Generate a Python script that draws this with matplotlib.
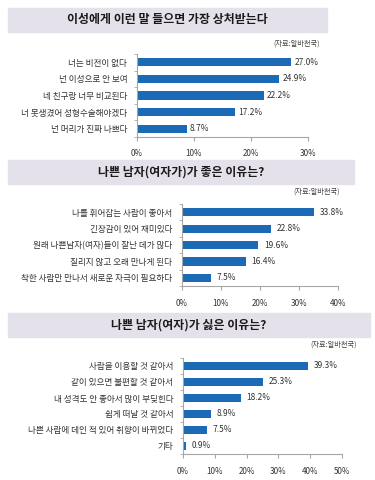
import matplotlib
matplotlib.use("Agg")
import matplotlib.pyplot as plt
import numpy as np

plt.rcParams['font.family'] = ['Noto Sans CJK KR', 'DejaVu Sans']

W, H = 375, 480
BAR = '#1a6ab5'
BAND = '#e4e1ea'
AXC = '#a6a6a6'

# panel 1
title1 = '이성에게 이런 말 들으면 가장 상처받는다'
cats1 = ['너는 비전이 없다', '넌 이성으로 안 보여', '네 친구랑 너무 비교된다',
         '너 못생겼어 성형수술해야겠다', '넌 머리가 진짜 나쁘다']
vals1 = [27.0, 24.9, 22.2, 17.2, 8.7]
ticks1 = [0, 10, 20, 30]

# panel 2
title2 = '나쁜 남자(여자가)가 좋은 이유는?'
cats2 = ['나를 휘어잡는 사람이 좋아서', '긴장감이 있어 재미있다', '원래 나쁜남자(여자)들이 잘난 데가 많다',
         '질리지 않고 오래 만나게 된다', '착한 사람만 만나서 새로운 자극이 필요하다']
vals2 = [33.8, 22.8, 19.6, 16.4, 7.5]
ticks2 = [0, 10, 20, 30, 40]

# panel 3
title3 = '나쁜 남자(여자)가 싫은 이유는?'
cats3 = ['사람을 이용할 것 같아서', '같이 있으면 불편할 것 같아서', '내 성격도 안 좋아서 많이 부딪힌다',
         '쉽게 떠날 것 같아서', '나쁜 사람에 데인 적 있어 취향이 바뀌었다', '기타']
vals3 = [39.3, 25.3, 18.2, 8.9, 7.5, 0.9]
ticks3 = [0, 10, 20, 30, 40, 50]

source = '(자료:알바천국)'

fig = plt.figure(figsize=(W / 100, H / 100), dpi=100)
fig.patch.set_facecolor('white')


def px_rect(x0, y0, x1, y1):
    # pixel box (top-left origin) -> figure fraction
    return [x0 / W, 1 - y1 / H, (x1 - x0) / W, (y1 - y0) / H]


def panel(title, cats, vals, ticks, band, axbox, src_xy, lab_off):
    bx0, by0, bx1, by1 = band
    fig.patches.append(plt.Rectangle((bx0 / W, 1 - by1 / H), (bx1 - bx0) / W, (by1 - by0) / H,
                                     transform=fig.transFigure, color=BAND, zorder=0))
    fig.text((bx0 + bx1) / 2 / W, 1 - (by0 + by1) / 2 / H, title, ha='center', va='center',
             fontsize=8.6, fontweight='bold', color='#1a1a1a')
    fig.text(src_xy[0] / W, 1 - src_xy[1] / H, source, ha='right', va='center',
             fontsize=5.2, color='#444444')

    ax = fig.add_axes(px_rect(*axbox))
    n = len(cats)
    y = np.arange(n)
    ax.barh(y, vals, height=0.5, color=BAR, zorder=2)
    ax.set_ylim(n - 0.5, -0.5)
    ax.set_xlim(ticks[0], ticks[-1])
    ax.set_yticks(y)
    ax.set_yticklabels(cats, fontsize=6.2, color='#333333')
    ax.set_yticks(np.arange(n + 1) - 0.5, minor=True)
    ax.tick_params(axis='y', which='major', length=0, pad=7)
    ax.tick_params(axis='y', which='minor', length=2, color=AXC, direction='out')
    ax.set_xticks(ticks)
    ax.set_xticklabels([f'{t}%' for t in ticks], fontsize=5.8, color='#333333')
    ax.tick_params(axis='x', length=3, color=AXC, direction='out', pad=6)
    for s in ['top', 'right']:
        ax.spines[s].set_visible(False)
    for s in ['left', 'bottom']:
        ax.spines[s].set_color(AXC)
        ax.spines[s].set_linewidth(0.8)
    ax.patch.set_alpha(0)
    for yi, v in zip(y, vals):
        ax.annotate(f'{v:.1f}%', (v, yi), xytext=(lab_off, 0), textcoords='offset points',
                    va='center', ha='left', fontsize=6, color='#333333')


panel(title1, cats1, vals1, ticks1, (8, 8, 327, 32), (137, 54, 308, 137), (320, 44), 2.5)
panel(title2, cats2, vals2, ticks2, (8, 160, 354, 184), (182, 204, 338, 286), (340, 192), 4)
panel(title3, cats3, vals3, ticks3, (8, 313, 370, 337), (183, 358, 342, 454), (357, 345), 4)

fig.savefig('out.png', dpi=100)
